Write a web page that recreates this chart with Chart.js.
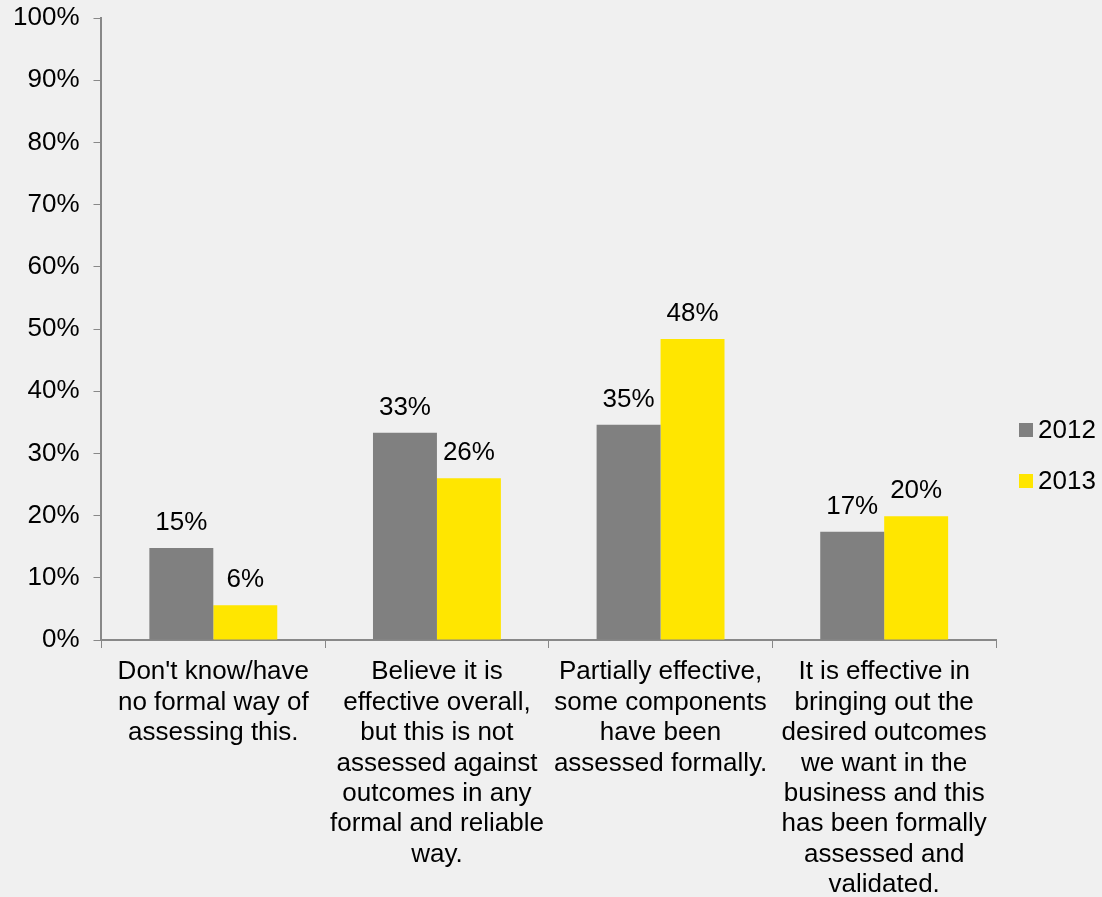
<!DOCTYPE html>
<html>
<head>
<meta charset="utf-8">
<script src="https://cdn.jsdelivr.net/npm/chart.js@4.4.1/dist/chart.umd.min.js"></script>
<style>
  html, body { margin: 0; padding: 0; background: #f0f0f0; }
  #wrap { width: 1102px; height: 897px; }
</style>
</head>
<body>
<div id="wrap"><canvas id="chart" width="1102" height="897"></canvas></div>
<script>
var categories = [
    ["Don't know/have", "no formal way of", "assessing this."],
    ["Believe it is", "effective overall,", "but this is not", "assessed against", "outcomes in any", "formal and reliable", "way."],
    ["Partially effective,", "some components", "have been", "assessed formally."],
    ["It is effective in", "bringing out the", "desired outcomes", "we want in the", "business and this", "has been formally", "assessed and", "validated."]
];
var values2012 = [14.8, 33.3, 34.6, 17.4];
var values2013 = [5.6, 26.0, 48.4, 19.9];
var labels2012 = ['15%', '33%', '35%', '17%'];
var labels2013 = ['6%', '26%', '48%', '20%'];

var FONT = 'Liberation Sans, Arial, sans-serif';
var axisColor = '#888888';

// paint the grey page colour behind the chart
var bgPlugin = {
    id: 'bg',
    beforeDraw: function(chart){
        var ctx = chart.ctx;
        ctx.save();
        ctx.fillStyle = '#f0f0f0';
        ctx.fillRect(0, 0, chart.width, chart.height);
        ctx.restore();
    }
};

// value labels above each bar
var valueLabels = {
    id: 'valueLabels',
    afterDatasetsDraw: function(chart){
        var ctx = chart.ctx;
        var texts = [labels2012, labels2013];
        ctx.save();
        ctx.font = '26px ' + FONT;
        ctx.fillStyle = '#000';
        ctx.textAlign = 'center';
        ctx.textBaseline = 'bottom';
        chart.data.datasets.forEach(function(ds, i){
            chart.getDatasetMeta(i).data.forEach(function(bar, j){
                ctx.fillText(texts[i][j], bar.x, bar.y - 12);
            });
        });
        ctx.restore();
    }
};

// legend on the right, square swatch close to its text
var sideLegend = {
    id: 'sideLegend',
    afterDraw: function(chart){
        var ctx = chart.ctx;
        var x = chart.chartArea.right + 23;
        var y = 430;
        ctx.save();
        ctx.font = '26px ' + FONT;
        ctx.textBaseline = 'middle';
        ctx.textAlign = 'left';
        chart.data.datasets.forEach(function(ds, i){
            var cy = y + i * 51;
            ctx.fillStyle = ds.backgroundColor;
            ctx.fillRect(x, cy - 7, 14, 14);
            ctx.fillStyle = '#000';
            ctx.fillText(ds.label, x + 19, cy + 1);
        });
        ctx.restore();
    }
};

new Chart(document.getElementById('chart'), {
    type: 'bar',
    data: {
        labels: categories,
        datasets: [{
            label: '2012',
            data: values2012,
            backgroundColor: '#808080'
        }, {
            label: '2013',
            data: values2013,
            backgroundColor: '#ffe600'
        }]
    },
    options: {
        responsive: false,
        animation: false,
        devicePixelRatio: 1,
        categoryPercentage: 0.572,
        barPercentage: 1,
        layout: {
            padding: { left: -1, top: 18, right: 106, bottom: 0 }
        },
        plugins: {
            tooltip: { enabled: false },
            legend: { display: false }
        },
        scales: {
            x: {
                grid: {
                    drawOnChartArea: false,
                    offset: true,
                    tickLength: 8,
                    color: axisColor
                },
                border: { color: axisColor, width: 2 },
                ticks: {
                    color: '#000',
                    padding: 9,
                    maxRotation: 0,
                    autoSkip: false,
                    font: { family: FONT, size: 26, lineHeight: 1.17 }
                },
                afterFit: function(scale){
                    scale.height = 257;
                }
            },
            y: {
                min: 0,
                max: 100,
                grid: {
                    drawOnChartArea: false,
                    tickLength: 8,
                    color: axisColor
                },
                border: { color: axisColor, width: 2 },
                ticks: {
                    stepSize: 10,
                    color: '#000',
                    padding: 14,
                    font: { family: FONT, size: 26 },
                    callback: function(v){ return v + '%'; }
                },
                afterFit: function(scale){
                    scale.paddingTop = 0;
                    scale.paddingBottom = 0;
                }
            }
        }
    },
    plugins: [bgPlugin, valueLabels, sideLegend]
});
</script>
</body>
</html>
